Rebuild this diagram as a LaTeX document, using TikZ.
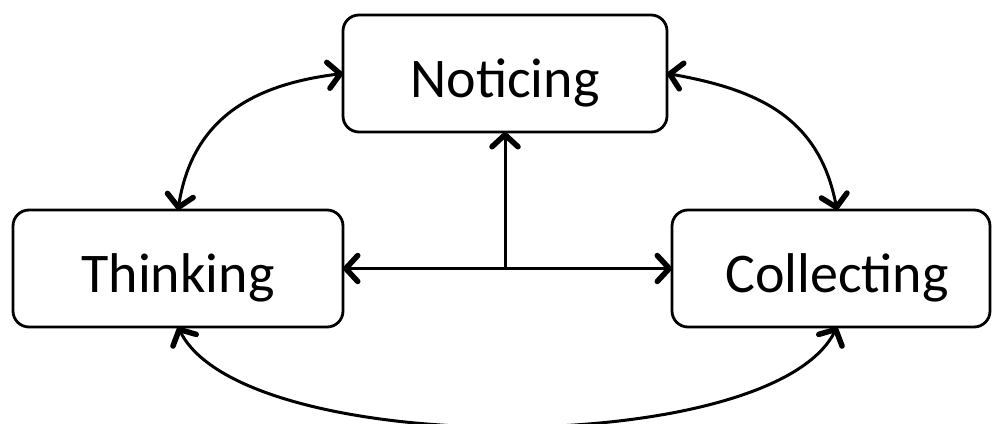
\documentclass[tikz,border=0pt]{standalone}
\usepackage{fontspec}
\setmainfont{Carlito}
\usetikzlibrary{arrows.meta}
\begin{document}
\begin{tikzpicture}[x=1pt,y=1pt,
  box/.style={draw, line width=2.8pt, rounded corners=16pt, inner sep=0pt, outer sep=0pt,
    minimum height=117pt, font=\fontsize{56}{60}\selectfont, text height=48pt, text depth=0pt},
  tip/.tip={Straight Barb[length=12pt,width=26pt,line width=5.5pt,round]},
  link/.style={line width=3pt, tip-tip},
  onelink/.style={line width=3pt, -tip}]
\useasboundingbox (0,0) rectangle (992,423);
\node[box, minimum width=324pt] (N) at (505,349.5) {Noticing};
\node[box, minimum width=330pt] (T) at (178,154.5) {Thinking};
\node[box, minimum width=318pt] (C) at (831,154.5) {\hspace*{12pt}Collecting};
\coordinate (Ct) at ([xshift=6pt]C.north);
\coordinate (Cb) at ([xshift=6pt]C.south);
\coordinate (J) at (N.south |- T.east);
\draw[link] (T.north) to[out=81, in=187, looseness=1.1] (N.west);
\draw[link] (N.east) to[out=-10, in=101, looseness=1.1] (Ct);
\draw[link] (T.south) .. controls +(66,-132) and +(-66,-132) .. (Cb);
\draw[link] (T.east) -- (C.west);
\draw[onelink] (J) -- (N.south);
\end{tikzpicture}
\end{document}
